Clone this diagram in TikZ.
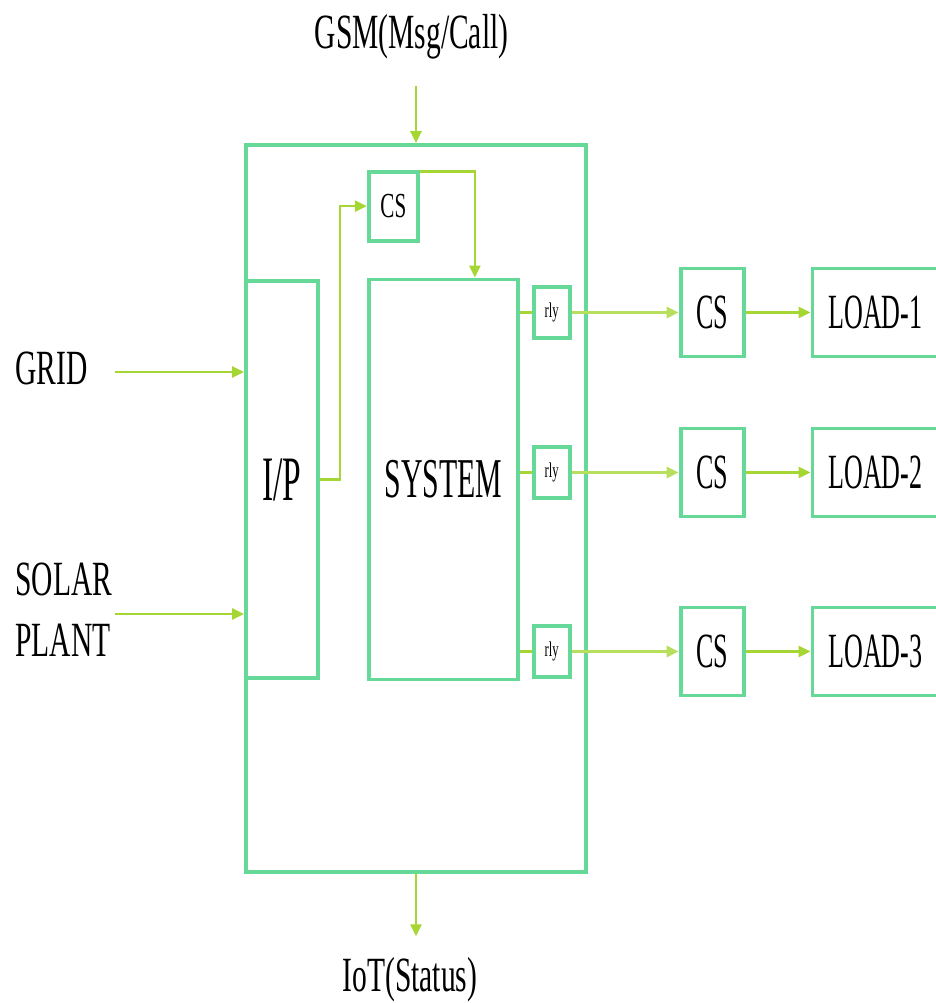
\documentclass[tikz,border=0pt]{standalone}
\usepackage{fontspec}
\setmainfont{Liberation Serif}[FakeStretch=0.6]
\newfontfamily\narrowfont{Liberation Serif}[FakeStretch=0.53]
\usepackage{tikz}
\usetikzlibrary{arrows.meta, positioning}
\definecolor{boxgreen}{RGB}{102, 217, 153}
\definecolor{wiregreen}{RGB}{166, 214, 52}

\begin{document}
\begin{tikzpicture}[
    node distance=1cm,
    block/.style={rectangle, draw=boxgreen, line width=2.2pt, inner sep=0pt, text centered, font=\narrowfont\fontsize{28}{34}\selectfont},
    tag/.style={inner sep=0pt, align=left, font=\fontsize{28}{35}\selectfont},
    wire/.style={draw=wiregreen, line width=1.4pt},
    arrow/.style={wire, -{Triangle[length=0.24cm, width=0.22cm]}},
    feed/.style={arrow, draw=wiregreen!80, line width=1.9pt}
]
    \useasboundingbox (-8.32,-9.89) rectangle (10.38,10.17);
    \node[block, minimum width=6.8cm, minimum height=14.54cm] (outer) at (0,0) {};
    \node[block, minimum width=1.44cm, minimum height=7.94cm, anchor=west, font=\narrowfont\fontsize{36}{40}\selectfont] (ip) at ([yshift=0.58cm]outer.west) {I/P};
    \node[block, right=0.94cm of ip, minimum width=2.98cm, minimum height=8cm, font=\narrowfont\fontsize{32}{36}\selectfont] (system) {SYSTEM};
    \node[block, above=0.7cm of system.north west, anchor=south west, minimum width=0.98cm, minimum height=1.38cm, font=\fontsize{20}{24}\selectfont] (csin) {CS};
    \node[block, right=0.24cm of system.east, yshift=3.34cm, minimum width=0.72cm, minimum height=1.02cm, font=\fontsize{12}{14}\selectfont] (rly1) {rly};
    \node[block, right=0.24cm of system.east, yshift=0.14cm, minimum width=0.72cm, minimum height=1.02cm, font=\fontsize{12}{14}\selectfont] (rly2) {rly};
    \node[block, right=0.24cm of system.east, yshift=-3.44cm, minimum width=0.72cm, minimum height=1.02cm, font=\fontsize{12}{14}\selectfont] (rly3) {rly};
    \node[block, right=2.14cm of rly1, minimum width=1.26cm, minimum height=1.76cm] (csout1) {CS};
    \node[block, right=2.14cm of rly2, minimum width=1.26cm, minimum height=1.76cm] (csout2) {CS};
    \node[block, right=2.14cm of rly3, minimum width=1.26cm, minimum height=1.76cm] (csout3) {CS};
    \node[block, right=1.3cm of csout1, minimum width=2.52cm, minimum height=1.76cm] (load1) {LOAD-1};
    \node[block, right=1.3cm of csout2, minimum width=2.52cm, minimum height=1.76cm] (load2) {LOAD-2};
    \node[block, right=1.3cm of csout3, minimum width=2.52cm, minimum height=1.76cm] (load3) {LOAD-3};
    \node[tag] (gsm) at ([xshift=-0.09cm, yshift=2.12cm]outer.north) {GSM(Msg/Call)};
    \node[tag] (iot) at ([xshift=-0.12cm, yshift=-2.12cm]outer.south) {IoT(Status)};
    \node[tag, anchor=west] (grid) at (-8.02, 2.8) {GRID};
    \node[tag, anchor=west] (solar) at (-8.02, -2.02) {SOLAR\\PLANT};
    \draw[arrow, shorten <=0.52cm] (gsm.south -| outer.north) -- (outer.north);
    \draw[arrow, shorten >=0.42cm] (outer.south) -- (iot.north -| outer.south);
    \draw[arrow, shorten <=0.54cm] ([yshift=-0.07cm]grid.east) -- ([yshift=-0.07cm]grid.east -| outer.west);
    \draw[arrow, shorten <=0.06cm] ([yshift=-0.09cm]solar.east) -- ([yshift=-0.09cm]solar.east -| outer.west);
    \draw[arrow] (ip.east) -- ++(0.4,0) |- (csin.west);
    \draw[arrow] ([yshift=-0.04cm]csin.north east) -| ([xshift=0.63cm]system.north);
    \draw[wire] (rly1.west -| system.east) -- (rly1.west);
    \draw[wire] (rly2.west -| system.east) -- (rly2.west);
    \draw[wire] (rly3.west -| system.east) -- (rly3.west);
    \draw[feed] (rly1.east) -- (csout1.west);
    \draw[feed] (rly2.east) -- (csout2.west);
    \draw[feed] (rly3.east) -- (csout3.west);
    \draw[arrow] (csout1.east) -- (load1.west);
    \draw[arrow] (csout2.east) -- (load2.west);
    \draw[arrow] (csout3.east) -- (load3.west);
\end{tikzpicture}
\end{document}
